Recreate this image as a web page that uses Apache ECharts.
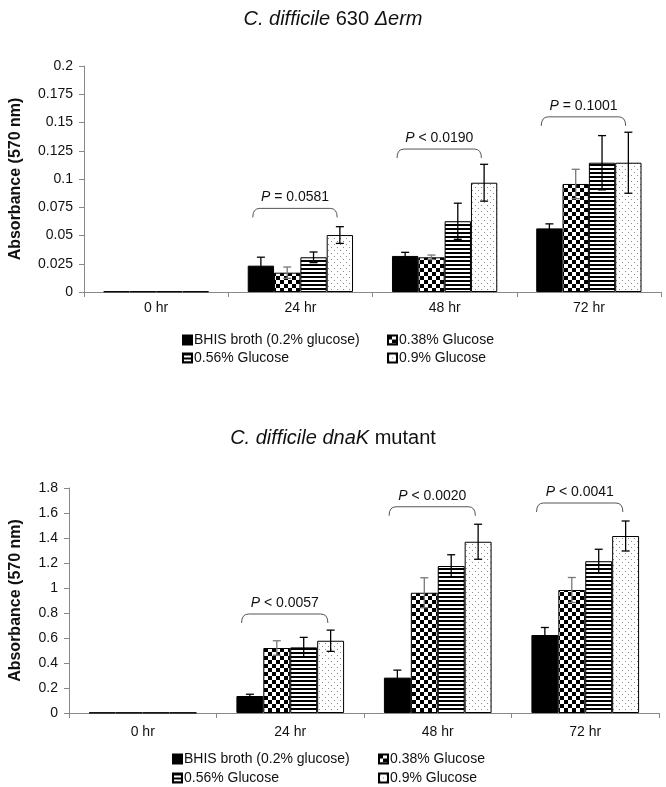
<!DOCTYPE html>
<html>
<head>
<meta charset="utf-8">
<script src="https://cdn.jsdelivr.net/npm/echarts@6/dist/echarts.min.js"></script>
<style>
html,body{margin:0;padding:0;background:#fff;}
#chart{width:666px;height:787px;}
</style>
</head>
<body>
<div id="chart"></div>
<script>
// ---------- DATA ----------
const categories = ['0 hr', '24 hr', '48 hr', '72 hr'];
const seriesNames = ['BHIS broth (0.2% glucose)', '0.38% Glucose', '0.56% Glucose', '0.9% Glucose'];

// Top chart: C. difficile 630 Δerm
const topBHIS = [0.0005, 0.0233, 0.0319, 0.0563];
const topG038 = [0.0005, 0.0171, 0.0307, 0.0956];
const topG056 = [0.0005, 0.0307, 0.0626, 0.1144];
const topG09  = [0.0005, 0.0504, 0.0967, 0.1144];
const topBHISErr = [0, 0.0075, 0.0032, 0.0040];
const topG038Err = [0, 0.0050, 0.0020, 0.0130];
const topG056Err = [0, 0.0047, 0.0160, 0.0240];
const topG09Err  = [0, 0.0074, 0.0163, 0.0270];
const topBracketCats = [1, 2, 3];
const topBracketY = [0.074, 0.1265, 0.155];
const topBracketLabels = ['= 0.0581', '< 0.0190', '= 0.1001'];

// Bottom chart: C. difficile dnaK mutant
const botBHIS = [0.003, 0.136, 0.283, 0.624];
const botG038 = [0.003, 0.520, 0.962, 0.984];
const botG056 = [0.003, 0.525, 1.176, 1.214];
const botG09  = [0.003, 0.578, 1.370, 1.416];
const botBHISErr = [0, 0.014, 0.060, 0.060];
const botG038Err = [0, 0.058, 0.120, 0.100];
const botG056Err = [0, 0.080, 0.090, 0.096];
const botG09Err  = [0, 0.085, 0.140, 0.120];
const botBracketCats = [1, 2, 3];
const botBracketY = [0.792, 1.65, 1.68];
const botBracketLabels = ['< 0.0057', '< 0.0020', '< 0.0041'];

// ---------- PATTERNS ----------
const FONT = 'Liberation Sans, Arial, sans-serif';
function mk(w, h, draw) {
  const c = document.createElement('canvas'); c.width = w; c.height = h;
  const g = c.getContext('2d'); g.fillStyle = '#fff'; g.fillRect(0, 0, w, h); draw(g); return c;
}
const checker = mk(8, 8, g => { g.fillStyle = '#000'; g.fillRect(0, 0, 4, 4); g.fillRect(4, 4, 4, 4); });
const stripes = mk(4, 4, g => { g.fillStyle = '#000'; g.fillRect(0, 0, 4, 2); });
const dots = mk(6, 6, g => { g.fillStyle = '#8a8a8a'; g.fillRect(1, 1, 1, 1); g.fillRect(4, 4, 1, 1); });
const fills = ['#000',
  { image: checker, repeat: 'repeat' },
  { image: stripes, repeat: 'repeat' },
  { image: dots, repeat: 'repeat' }];
const errColors = ['#000', '#777', '#000', '#000'];

const GAP = 0.27;

function barSeries(k, grid, vals) {
  return {
    name: seriesNames[k], type: 'bar', xAxisIndex: grid, yAxisIndex: grid,
    data: vals, barGap: '0%', barCategoryGap: (GAP * 100) + '%',
    itemStyle: { color: fills[k], borderColor: '#000', borderWidth: 1 },
    emphasis: { disabled: true }, z: 2
  };
}
function errSeries(k, grid, vals, errs) {
  return {
    type: 'custom', xAxisIndex: grid, yAxisIndex: grid, silent: true, z: 5,
    data: vals.map((v, i) => [i, v, errs[i]]),
    renderItem: function (params, api) {
      const ci = api.value(0), v = api.value(1), e = api.value(2);
      if (!(e > 0)) return null;
      const t = api.coord([ci, v + e]);
      const b = api.coord([ci, v - e]);
      const cw = api.size([1, 0])[0];
      const bw = cw * (1 - GAP) / 4;
      const x = t[0] + (-2 + k + 0.5) * bw;
      const cap = 4;
      const st = { stroke: errColors[k], lineWidth: 1.3 };
      return { type: 'group', children: [
        { type: 'line', shape: { x1: x, y1: t[1], x2: x, y2: b[1] }, style: st },
        { type: 'line', shape: { x1: x - cap, y1: t[1], x2: x + cap, y2: t[1] }, style: st },
        { type: 'line', shape: { x1: x - cap, y1: b[1], x2: x + cap, y2: b[1] }, style: st }
      ]};
    }
  };
}
function bracketSeries(grid, cats, ys, labels) {
  return {
    type: 'custom', xAxisIndex: grid, yAxisIndex: grid, silent: true, z: 6,
    data: cats.map((c, i) => [c, ys[i], i]),
    renderItem: function (params, api) {
      const p = api.coord([api.value(0), api.value(1)]);
      const cw = api.size([1, 0])[0];
      const x1 = p[0] - 0.33 * cw, x2 = p[0] + 0.255 * cw, y = p[1];
      const leg = 9, r = 7;
      const d = 'M' + x1 + ' ' + (y + leg) + ' Q' + x1 + ' ' + y + ' ' + (x1 + r) + ' ' + y +
        ' L' + (x2 - r) + ' ' + y + ' Q' + x2 + ' ' + y + ' ' + x2 + ' ' + (y + leg);
      const lab = labels[api.value(2)];
      return { type: 'group', children: [
        { type: 'path', shape: { pathData: d }, style: { stroke: '#555', fill: null, lineWidth: 1 } },
        { type: 'text', style: {
            text: '{i|P} ' + lab, x: (x1 + x2) / 2, y: y - 11, align: 'center', verticalAlign: 'middle',
            fill: '#111', fontSize: 14, fontFamily: FONT,
            rich: { i: { fontStyle: 'italic', fontSize: 14, fontFamily: FONT, fill: '#111' } }
        } }
      ]};
    }
  };
}

function xAx(grid, margin) {
  return {
    type: 'category', gridIndex: grid, data: categories,
    axisLine: { lineStyle: { color: '#888', width: 1 } },
    axisTick: { show: true, length: 5, lineStyle: { color: '#888' } },
    axisLabel: { fontSize: 14, color: '#111', fontFamily: FONT, margin: margin },
    splitLine: { show: false }
  };
}
function yAx(grid, max, interval, nameGap) {
  return {
    type: 'value', gridIndex: grid, min: 0, max: max, interval: interval,
    axisLine: { show: true, lineStyle: { color: '#888', width: 1 } },
    axisTick: { show: true, length: 5, lineStyle: { color: '#888' } },
    axisLabel: { fontSize: 14, color: '#111', fontFamily: FONT, margin: 11 },
    splitLine: { show: false },
    name: 'Absorbance (570 nm)', nameLocation: 'middle', nameGap: nameGap,
    nameTextStyle: { fontSize: 16, fontWeight: 'bold', color: '#111', fontFamily: FONT }
  };
}
function legendItem(k, left, top) {
  return {
    data: [seriesNames[k]], left: left, top: top, icon: 'rect', itemWidth: 9, itemHeight: 9,
    selectedMode: false, padding: 0,
    textStyle: { fontSize: 14, color: '#111', fontFamily: FONT, padding: [0, 0, 0, -3] }
  };
}

const chart = echarts.init(document.getElementById('chart'), null, { renderer: 'canvas' });
const titleStyle = {
  fontSize: 20, fontWeight: 'normal', color: '#111', fontFamily: FONT,
  rich: { i: { fontStyle: 'italic', fontSize: 20, color: '#111', fontFamily: FONT } }
};
chart.setOption({
  animation: false,
  backgroundColor: '#fff',
  title: [
    { text: '{i|C. difficile} 630 {i|Δerm}', left: 'center', top: 4, textStyle: titleStyle },
    { text: '{i|C. difficile dnaK} mutant', left: 'center', top: 423, textStyle: titleStyle }
  ],
  grid: [
    { left: 80, top: 66, width: 581, height: 226 },
    { left: 67, top: 488, width: 592, height: 225 }
  ],
  xAxis: [xAx(0, 9), xAx(1, 12)],
  yAxis: [yAx(0, 0.2, 0.025, 60), yAx(1, 1.8, 0.2, 45)],
  legend: [
    legendItem(0, 182, 333), legendItem(1, 387, 333), legendItem(2, 182, 351), legendItem(3, 387, 351),
    legendItem(0, 172, 752), legendItem(1, 378, 752), legendItem(2, 172, 771), legendItem(3, 378, 771)
  ],
  series: [
    barSeries(0, 0, topBHIS), barSeries(1, 0, topG038), barSeries(2, 0, topG056), barSeries(3, 0, topG09),
    errSeries(0, 0, topBHIS, topBHISErr), errSeries(1, 0, topG038, topG038Err),
    errSeries(2, 0, topG056, topG056Err), errSeries(3, 0, topG09, topG09Err),
    bracketSeries(0, topBracketCats, topBracketY, topBracketLabels),
    barSeries(0, 1, botBHIS), barSeries(1, 1, botG038), barSeries(2, 1, botG056), barSeries(3, 1, botG09),
    errSeries(0, 1, botBHIS, botBHISErr), errSeries(1, 1, botG038, botG038Err),
    errSeries(2, 1, botG056, botG056Err), errSeries(3, 1, botG09, botG09Err),
    bracketSeries(1, botBracketCats, botBracketY, botBracketLabels)
  ]
});
</script>
</body>
</html>
